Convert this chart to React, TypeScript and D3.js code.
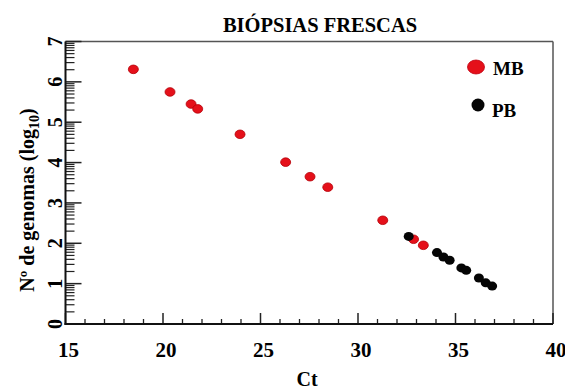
import React, { useEffect, useRef } from "react";
import * as d3 from "d3";

// MB (red) and PB (black) samples: Ct vs log10 genome copies
const mbCt = [18.48, 20.36, 21.44, 21.78, 23.95, 26.29, 27.54, 28.45, 31.27, 32.85, 33.35];
const mbLog = [6.31, 5.75, 5.45, 5.33, 4.7, 4.01, 3.65, 3.39, 2.57, 2.1, 1.95];
const pbCt = [32.6, 34.05, 34.38, 34.7, 35.3, 35.55, 36.2, 36.55, 36.88];
const pbLog = [2.17, 1.77, 1.66, 1.58, 1.39, 1.33, 1.14, 1.02, 0.94];

const xTicks = [15, 20, 25, 30, 35, 40];
const yTicks = [0, 1, 2, 3, 4, 5, 6, 7];

const FONT = "Liberation Serif";

const App = () => {
  const ref = useRef<SVGSVGElement>(null);

  useEffect(() => {
    const svg = d3.select(ref.current);
    svg.selectAll("*").remove();

    const x = d3.scaleLinear().domain([15, 40]).range([65.5, 553]);
    const y = d3.scaleLinear().domain([0, 7]).range([324, 41.5]);

    const txt = (sel: any, size: number) =>
      sel
        .attr("font-family", FONT)
        .attr("font-weight", "bold")
        .attr("font-size", size);

    //title
    txt(
      svg.append("text").attr("x", 320).attr("y", 32).attr("text-anchor", "middle"),
      20.5
    ).text("BIÓPSIAS FRESCAS");

    //frame (top and right are thin grey)
    svg
      .append("line")
      .attr("x1", x(15))
      .attr("x2", x(40))
      .attr("y1", y(7))
      .attr("y2", y(7))
      .attr("stroke", "#555")
      .attr("stroke-width", 1.5);
    svg
      .append("line")
      .attr("x1", x(40))
      .attr("x2", x(40))
      .attr("y1", y(7))
      .attr("y2", y(0))
      .attr("stroke", "#555")
      .attr("stroke-width", 1.5);

    //x ticks, pointing inward
    const xMinor = d3.range(16, 40).filter((d) => d % 5 !== 0);
    svg
      .selectAll(".xminor")
      .data(xMinor)
      .enter()
      .append("line")
      .attr("x1", (d) => x(d))
      .attr("x2", (d) => x(d))
      .attr("y1", y(0))
      .attr("y2", y(0) - 5)
      .attr("stroke", "#222")
      .attr("stroke-width", 1.3);
    svg
      .selectAll(".xmajor")
      .data(xTicks)
      .enter()
      .append("line")
      .attr("x1", (d) => x(d))
      .attr("x2", (d) => x(d))
      .attr("y1", y(0))
      .attr("y2", y(0) - 11)
      .attr("stroke", "#222")
      .attr("stroke-width", 1.5);
    txt(
      svg
        .selectAll(".xlabel")
        .data(xTicks)
        .enter()
        .append("text")
        .attr("x", (d) => x(d) + 3)
        .attr("y", 357)
        .attr("text-anchor", "middle"),
      21
    ).text((d) => d);

    //y ticks, log minor ticks
    const yMinor: number[] = [];
    for (let i = 0; i < 7; i++) {
      for (let k = 2; k <= 9; k++) yMinor.push(i + Math.log10(k));
    }
    svg
      .selectAll(".yminor")
      .data(yMinor)
      .enter()
      .append("line")
      .attr("x1", x(15))
      .attr("x2", x(15) + 9)
      .attr("y1", (d) => y(d))
      .attr("y2", (d) => y(d))
      .attr("stroke", "#222")
      .attr("stroke-width", 1.2);
    svg
      .selectAll(".ymajor")
      .data(yTicks)
      .enter()
      .append("line")
      .attr("x1", x(15))
      .attr("x2", x(15) + 16)
      .attr("y1", (d) => y(d))
      .attr("y2", (d) => y(d))
      .attr("stroke", "#222")
      .attr("stroke-width", 1.5);
    txt(
      svg
        .selectAll(".ylabel")
        .data(yTicks)
        .enter()
        .append("text")
        .attr("transform", (d) => `translate(62,${y(d)}) rotate(-90)`)
        .attr("text-anchor", "middle"),
      20
    ).text((d) => d);

    //axis lines
    svg
      .append("line")
      .attr("x1", x(15))
      .attr("x2", x(15))
      .attr("y1", y(7))
      .attr("y2", y(0) + 1)
      .attr("stroke", "#111")
      .attr("stroke-width", 2);
    svg
      .append("line")
      .attr("x1", x(15) - 1)
      .attr("x2", x(40))
      .attr("y1", y(0))
      .attr("y2", y(0))
      .attr("stroke", "#111")
      .attr("stroke-width", 2);

    //axis titles
    const yt = txt(
      svg
        .append("text")
        .attr("transform", "translate(34,200) rotate(-90)")
        .attr("text-anchor", "middle"),
      20
    );
    yt.append("tspan").text("Nº de genomas (log");
    yt.append("tspan").attr("font-size", 14).attr("dy", 5).text("10");
    yt.append("tspan").attr("dy", -5).text(")");

    txt(
      svg.append("text").attr("x", 307).attr("y", 386).attr("text-anchor", "middle"),
      20
    ).text("Ct");

    //points
    const mb = mbCt.map((c, i) => ({ c, v: mbLog[i] }));
    const pb = pbCt.map((c, i) => ({ c, v: pbLog[i] }));

    svg
      .selectAll(".mb")
      .data(mb)
      .enter()
      .append("ellipse")
      .attr("cx", (d) => x(d.c))
      .attr("cy", (d) => y(d.v))
      .attr("rx", 5)
      .attr("ry", 4.3)
      .attr("fill", "#e5101a")
      .attr("stroke", "#b40008")
      .attr("stroke-width", 0.8);

    svg
      .selectAll(".pb")
      .data(pb)
      .enter()
      .append("ellipse")
      .attr("cx", (d) => x(d.c))
      .attr("cy", (d) => y(d.v))
      .attr("rx", 5)
      .attr("ry", 4.5)
      .attr("fill", "#050505");

    //legend
    svg
      .append("ellipse")
      .attr("cx", 476)
      .attr("cy", 67)
      .attr("rx", 8.5)
      .attr("ry", 7)
      .attr("fill", "#e5101a")
      .attr("stroke", "#c00010")
      .attr("stroke-width", 0.8);
    txt(svg.append("text").attr("x", 493).attr("y", 74.5), 19).text("MB");
    svg
      .append("circle")
      .attr("cx", 478)
      .attr("cy", 105)
      .attr("r", 6.5)
      .attr("fill", "#050505");
    txt(svg.append("text").attr("x", 492).attr("y", 117), 19).text("PB");
  }, []);

  return (
    <svg
      ref={ref}
      width={565}
      height={390}
      style={{ position: "absolute", left: 0, top: 0, background: "#fff" }}
    />
  );
};

export default App;
